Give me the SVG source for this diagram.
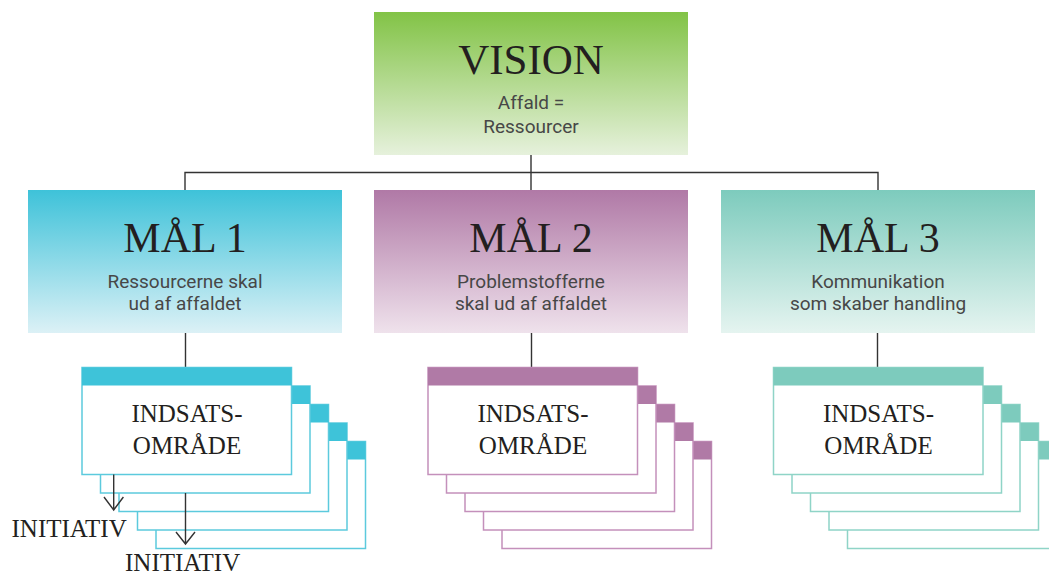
<svg xmlns="http://www.w3.org/2000/svg" width="1049" height="574" viewBox="0 0 1049 574">
<defs>
<linearGradient id="gV" x1="0" y1="0" x2="0" y2="1"><stop offset="0" stop-color="#82c346"/><stop offset="1" stop-color="#e6f1dc"/></linearGradient>
<linearGradient id="g1" x1="0" y1="0" x2="0" y2="1"><stop offset="0" stop-color="#3ec2d9"/><stop offset="1" stop-color="#dcf1f6"/></linearGradient>
<linearGradient id="g2" x1="0" y1="0" x2="0" y2="1"><stop offset="0" stop-color="#b079a6"/><stop offset="1" stop-color="#efe2ec"/></linearGradient>
<linearGradient id="g3" x1="0" y1="0" x2="0" y2="1"><stop offset="0" stop-color="#7dcbbd"/><stop offset="1" stop-color="#e5f4f0"/></linearGradient>
</defs>
<style>
.title{font-family:"Liberation Serif","Times New Roman",serif;fill:#231f20;text-anchor:middle}
.sub{font-family:Roboto,"Liberation Sans",sans-serif;font-weight:400;font-size:19px;fill:#474747;text-anchor:middle}
.ind{font-family:"Liberation Serif","Times New Roman",serif;font-size:25px;fill:#231f20;text-anchor:middle}
.ini{font-family:"Liberation Serif","Times New Roman",serif;font-size:25px;fill:#231f20}
.line{stroke:#333;stroke-width:1.4;fill:none}
.cb{fill:#fff;stroke-width:1.5}
.s1 .cb{stroke:#5ccadd}.s1 .ch{fill:#3ec3d9}
.s2 .cb{stroke:#c490bb}.s2 .ch{fill:#b07aa6}
.s3 .cb{stroke:#8fd4c7}.s3 .ch{fill:#7dcbbd}
</style>
<rect width="1049" height="574" fill="#fff"/>
<g id="connectors">
  <path class="line" d="M531 155V190M185 190V172.5H878V190M185.5 332V367.5M531.5 332V367.5M877.5 333V367.5"/>
</g>
<g id="vision">
  <rect x="374" y="12" width="314" height="143" fill="url(#gV)"/>
  <text class="title" x="531" y="74" font-size="43">VISION</text>
  <text class="sub" x="531" y="109">Affald =</text>
  <text class="sub" x="531" y="133">Ressourcer</text>
</g>
<g id="mal1">
  <rect x="28" y="190" width="314" height="143" fill="url(#g1)"/>
  <text class="title" x="185" y="252" font-size="42">MÅL 1</text>
  <text class="sub" x="185" y="287.5">Ressourcerne skal</text>
  <text class="sub" x="185" y="310">ud af affaldet</text>
</g>
<g id="mal2">
  <rect x="374" y="190" width="314" height="143" fill="url(#g2)"/>
  <text class="title" x="531" y="252" font-size="42">MÅL 2</text>
  <text class="sub" x="531" y="287.5">Problemstofferne</text>
  <text class="sub" x="531" y="310">skal ud af affaldet</text>
</g>
<g id="mal3">
  <rect x="721" y="190" width="314" height="143" fill="url(#g3)"/>
  <text class="title" x="878" y="252" font-size="42">MÅL 3</text>
  <text class="sub" x="878" y="287.5">Kommunikation</text>
  <text class="sub" x="878" y="310">som skaber handling</text>
</g>
<g id="indsats1" class="s1" transform="translate(82,367.5)">
  <rect class="cb" x="74" y="74" width="209.5" height="107"/><rect class="ch" x="74" y="74" width="209.5" height="18"/>
  <rect class="cb" x="55.5" y="55.5" width="209.5" height="107"/><rect class="ch" x="55.5" y="55.5" width="209.5" height="18"/>
  <rect class="cb" x="37" y="37" width="209.5" height="107"/><rect class="ch" x="37" y="37" width="209.5" height="18"/>
  <rect class="cb" x="18.5" y="18.5" width="209.5" height="107"/><rect class="ch" x="18.5" y="18.5" width="209.5" height="18"/>
  <rect class="cb" x="0" y="0" width="209.5" height="107"/><rect class="ch" x="0" y="0" width="209.5" height="18"/>
  <text class="ind" x="105" y="54">INDSATS-</text>
  <text class="ind" x="105" y="86.5">OMRÅDE</text>
</g>
<g id="indsats2" class="s2" transform="translate(428,367.5)">
  <rect class="cb" x="74" y="74" width="209.5" height="107"/><rect class="ch" x="74" y="74" width="209.5" height="18"/>
  <rect class="cb" x="55.5" y="55.5" width="209.5" height="107"/><rect class="ch" x="55.5" y="55.5" width="209.5" height="18"/>
  <rect class="cb" x="37" y="37" width="209.5" height="107"/><rect class="ch" x="37" y="37" width="209.5" height="18"/>
  <rect class="cb" x="18.5" y="18.5" width="209.5" height="107"/><rect class="ch" x="18.5" y="18.5" width="209.5" height="18"/>
  <rect class="cb" x="0" y="0" width="209.5" height="107"/><rect class="ch" x="0" y="0" width="209.5" height="18"/>
  <text class="ind" x="105" y="54">INDSATS-</text>
  <text class="ind" x="105" y="86.5">OMRÅDE</text>
</g>
<g id="indsats3" class="s3" transform="translate(773.5,367.5)">
  <rect class="cb" x="74" y="74" width="209.5" height="107"/><rect class="ch" x="74" y="74" width="209.5" height="18"/>
  <rect class="cb" x="55.5" y="55.5" width="209.5" height="107"/><rect class="ch" x="55.5" y="55.5" width="209.5" height="18"/>
  <rect class="cb" x="37" y="37" width="209.5" height="107"/><rect class="ch" x="37" y="37" width="209.5" height="18"/>
  <rect class="cb" x="18.5" y="18.5" width="209.5" height="107"/><rect class="ch" x="18.5" y="18.5" width="209.5" height="18"/>
  <rect class="cb" x="0" y="0" width="209.5" height="107"/><rect class="ch" x="0" y="0" width="209.5" height="18"/>
  <text class="ind" x="105" y="54">INDSATS-</text>
  <text class="ind" x="105" y="86.5">OMRÅDE</text>
</g>
<g id="initiativ1">
  <path class="line" d="M113.7 474.5V510M104 497L113.7 510L123.4 497"/>
  <text class="ini" x="11.5" y="536.7">INITIATIV</text>
</g>
<g id="initiativ2">
  <path class="line" d="M185.5 493V544M176 532L185.5 544L195 532"/>
  <text class="ini" x="125" y="571">INITIATIV</text>
</g>
</svg>
